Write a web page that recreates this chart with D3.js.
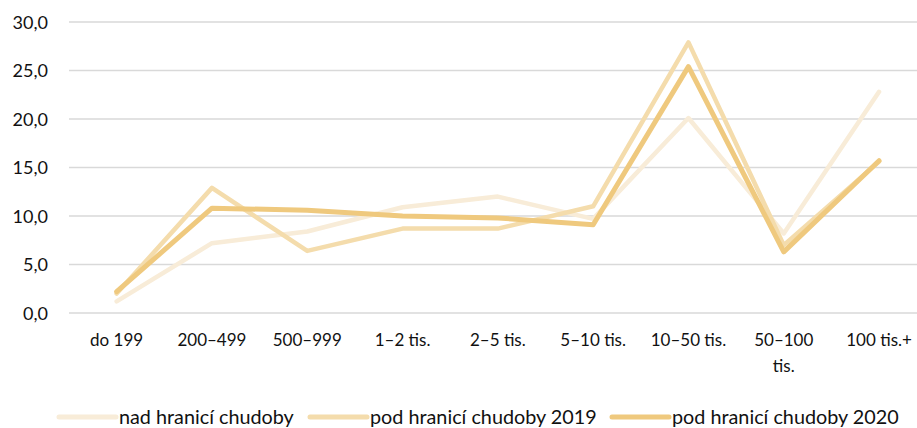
<!DOCTYPE html>
<html><head><meta charset="utf-8">
<script src="https://cdn.jsdelivr.net/npm/d3@7"></script>
<style>
html,body{margin:0;padding:0;background:#fff;}
svg{display:block;}
text{font-family:Lato,"Open Sans",sans-serif;fill:#111;}
</style></head>
<body>
<svg id="c" width="917" height="428"></svg>
<script>
const categories = ["do 199","200–499","500–999","1–2 tis.","2–5 tis.","5–10 tis.","10–50 tis.","50–100 tis.","100 tis.+"];
const seriesNames = ["nad hranicí chudoby","pod hranicí chudoby 2019","pod hranicí chudoby 2020"];
const nadHranici = [1.2, 7.2, 8.4, 10.9, 12.0, 9.7, 20.1, 8.2, 22.8];
const pod2019 = [2.0, 12.9, 6.4, 8.7, 8.7, 11.0, 27.9, 7.0, 15.6];
const pod2020 = [2.2, 10.8, 10.6, 10.0, 9.8, 9.1, 25.4, 6.3, 15.7];
const yTicks = [0,5,10,15,20,25,30];
const colors = ["#f8ecd8","#f4dcac","#efc97e"];

const svg = d3.select("#c");
const x = d3.scaleBand().domain(categories).range([69, 926.7]);
const y = d3.scaleLinear().domain([0,30]).range([313, 22]);

// gridlines
svg.append("g").selectAll("line").data(yTicks).join("line")
  .attr("x1",69).attr("x2",917).attr("y1",d=>y(d)).attr("y2",d=>y(d))
  .attr("stroke","#d9d9d9").attr("stroke-width",1.5);

// y axis labels
const yAxis = d3.axisLeft(y).tickValues(yTicks).tickSize(0).tickPadding(0)
  .tickFormat(d=>d3.format(".1f")(d).replace(".",","));
const yg = svg.append("g").attr("transform","translate(48,0)").call(yAxis);
yg.select(".domain").remove();
yg.selectAll("text").attr("font-size",18).attr("font-family","Lato,sans-serif").attr("fill","#111").attr("dy","0.35em");

// x axis labels
const xAxis = d3.axisBottom(x).tickSize(0).tickPadding(0);
const xg = svg.append("g").attr("transform","translate(0,329)").call(xAxis);
xg.select(".domain").remove();
xg.selectAll("text").attr("font-size",17).attr("font-family","Lato,sans-serif").attr("fill","#111")
  .attr("dy","1em")
  .each(function(d){
    const t = d3.select(this);
    if (d === "50–100 tis.") {
      t.text(null);
      t.append("tspan").attr("x",0).attr("dy","1em").text("50–100");
      t.append("tspan").attr("x",0).attr("dy","1.55em").text("tis.");
      t.attr("dy",null);
    }
  });

// lines
const data = [nadHranici, pod2019, pod2020];
const line = d3.line().x((d,i)=>x(categories[i])+x.bandwidth()/2).y(d=>y(d));
svg.append("g").selectAll("path").data(data).join("path")
  .attr("d",line).attr("fill","none")
  .attr("stroke",(d,i)=>colors[i]).attr("stroke-width",(d,i)=>i===2?5:4.5)
  .attr("stroke-linejoin","round").attr("stroke-linecap","round");

// legend
const legendX = [59, 310, 612];
const lg = svg.append("g").selectAll("g").data(seriesNames).join("g")
  .attr("transform",(d,i)=>`translate(${legendX[i]},417)`);
lg.append("line").attr("x1",0).attr("x2",57).attr("y1",0).attr("y2",0)
  .attr("stroke",(d,i)=>colors[i]).attr("stroke-width",5).attr("stroke-linecap","round");
lg.append("text").attr("x",60).attr("y",0).attr("dy","0.35em").attr("font-size",19.8).text(d=>d);
</script>
</body></html>
